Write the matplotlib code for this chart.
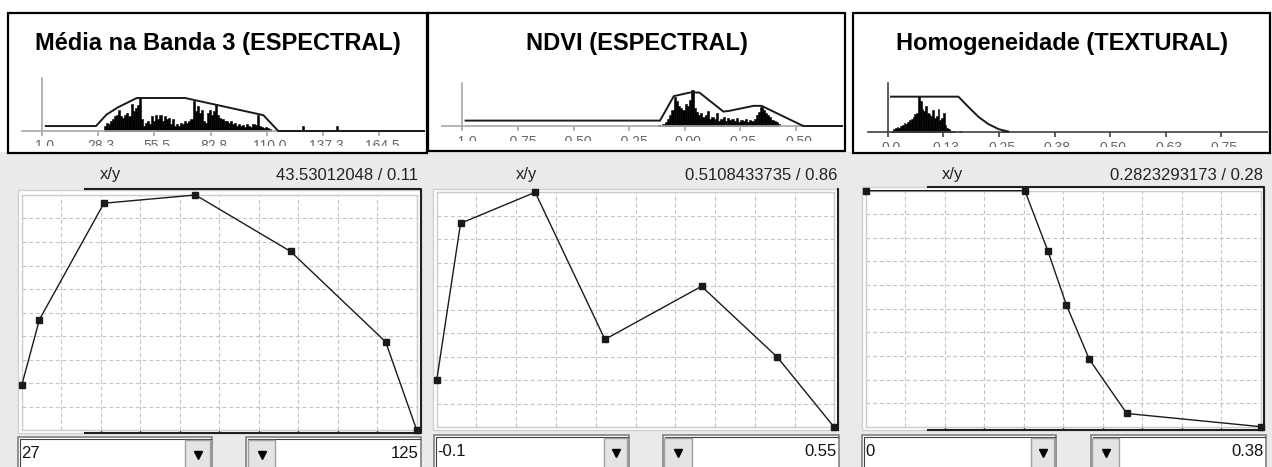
import numpy as np
import matplotlib
matplotlib.use("Agg")
import matplotlib.pyplot as plt
from matplotlib.patches import Rectangle

plt.rcParams['font.family'] = ['Liberation Sans', 'DejaVu Sans']

W, H = 1272, 467

# --- membership functions (lower charts) ---
titles = ["Média na Banda 3 (ESPECTRAL)", "NDVI (ESPECTRAL)", "Homogeneidade (TEXTURAL)"]

banda3_x = [27, 31.4, 47.4, 70.1, 93.7, 117.3, 125]
banda3_y = [0.19, 0.47, 0.965, 1.0, 0.76, 0.375, 0.0]
ndvi_x = [-0.1, -0.061, 0.061, 0.175, 0.333, 0.457, 0.55]
ndvi_y = [0.2, 0.868, 1.0, 0.374, 0.6, 0.298, 0.0]
homog_x = [0, 0.153, 0.175, 0.193, 0.215, 0.251, 0.38]
homog_y = [1.0, 1.0, 0.746, 0.515, 0.285, 0.056, 0.0]

x_ranges = [(27, 125), (-0.1, 0.55), (0, 0.38)]
range_labels = [("27", "125"), ("-0.1", "0.55"), ("0", "0.38")]
readouts = ["43.53012048 / 0.11", "0.5108433735 / 0.86", "0.2823293173 / 0.28"]

# --- histograms in the title boxes ---
banda3_hist_start, banda3_hist_step = 31, 1.0
banda3_hist = [0.15, 0.25, 0.2, 0.3, 0.35, 0.45, 0.5, 0.63, 0.45, 0.4,
               0.5, 0.55, 0.45, 0.83, 0.6, 0.7, 0.78, 1.0, 0.35, 0.15,
               0.25, 0.3, 0.2, 0.45, 0.3, 0.5, 0.35, 0.5, 0.3, 0.45,
               0.35, 0.4, 0.2, 0.35, 0.15, 0.2, 0.15, 0.25, 0.2, 0.3,
               0.25, 0.3, 0.35, 0.9, 0.6, 0.75, 0.55, 0.65, 0.3, 0.25,
               0.55, 0.65, 0.5, 0.6, 0.83, 0.5, 0.4, 0.35, 0.3, 0.3,
               0.25, 0.3, 0.2, 0.25, 0.15, 0.2, 0.15, 0.18, 0.12, 0.2,
               0.15, 0.12, 0.2, 0.18, 0.48, 0.15, 0.12, 0.1, 0.12, 0.08, 0.06]
banda3_extra_x = [127.6, 144.0]
banda3_extra_h = [0.15, 0.15]
banda3_env_x = [3.0, 27.3, 32.4, 38.0, 47.0, 70.4, 108.3, 115.5, 200.0]
banda3_env_y = [0.15, 0.15, 0.5, 0.72, 1.0, 1.0, 0.48, 0.0, 0.0]
banda3_ticks = [1.0, 28.25, 55.5, 82.75, 110.0, 137.25, 164.5, 191.75]
banda3_ticklabels = ["1.0", "28.3", "55.5", "82.8", "110.0", "137.3", "164.5", "191.8"]

ndvi_hist_start, ndvi_hist_step = -0.10, 0.01
ndvi_hist = [0.05, 0.12, 0.2, 0.3, 0.45, 0.8, 0.7, 0.55, 0.5, 0.45,
             0.6, 0.55, 0.72, 1.0, 0.5, 0.4, 0.3, 0.35, 0.25, 0.3,
             0.42, 0.2, 0.25, 0.2, 0.35, 0.15, 0.2, 0.25, 0.15, 0.22,
             0.18, 0.2, 0.15, 0.22, 0.12, 0.18, 0.15, 0.2, 0.12, 0.18,
             0.15, 0.2, 0.3, 0.4, 0.54, 0.45, 0.35, 0.3, 0.25, 0.18,
             0.15, 0.1, 0.05]
ndvi_extra_x = [-0.115]
ndvi_extra_h = [0.04]
ndvi_env_x = [-0.985, -0.111, -0.049, 0.024, 0.066, 0.174, 0.20, 0.310, 0.346, 0.399, 0.533, 1.0]
ndvi_env_y = [0.15, 0.15, 0.83, 0.93, 0.93, 0.40, 0.42, 0.56, 0.56, 0.40, 0.0, 0.0]
ndvi_ticks = [-1.0, -0.75, -0.5, -0.25, 0.0, 0.25, 0.5, 0.75]
ndvi_ticklabels = ["-1.0", "-0.75", "-0.50", "-0.25", "0.00", "0.25", "0.50", "0.75"]

homog_hist_start, homog_hist_step = 0.008, 0.004
homog_hist = [0.05, 0.08, 0.12, 0.14, 0.12, 0.18, 0.2, 0.25, 0.22, 0.3,
              0.33, 0.38, 0.42, 0.5, 0.55, 1.0, 0.88, 0.65, 0.6, 0.72,
              0.55, 0.5, 0.45, 0.62, 0.4, 0.45, 0.66, 0.35, 0.4, 0.55,
              0.2, 0.12, 0.08, 0.05, 0.04, 0.03]
homog_extra_x = [0.163, 0.258, 0.264]
homog_extra_h = [0.04, 0.03, 0.03]
homog_env_x = [0.0074, 0.159, 0.181, 0.204, 0.226, 0.249, 0.271]
homog_env_y = [0.99, 0.99, 0.71, 0.43, 0.23, 0.09, 0.02]
homog_ticks = [0.0, 0.125, 0.25, 0.375, 0.5, 0.625, 0.75, 0.875]
homog_ticklabels = ["0.0", "0.13", "0.25", "0.38", "0.50", "0.63", "0.75", "0.88"]

panels = [
    dict(mx=banda3_x, my=banda3_y,
         hist=banda3_hist, h0=banda3_hist_start, hs=banda3_hist_step,
         ex=banda3_extra_x, eh=banda3_extra_h, envx=banda3_env_x, envy=banda3_env_y,
         ticks=banda3_ticks, tlabels=banda3_ticklabels),
    dict(mx=ndvi_x, my=ndvi_y,
         hist=ndvi_hist, h0=ndvi_hist_start, hs=ndvi_hist_step,
         ex=ndvi_extra_x, eh=ndvi_extra_h, envx=ndvi_env_x, envy=ndvi_env_y,
         ticks=ndvi_ticks, tlabels=ndvi_ticklabels),
    dict(mx=homog_x, my=homog_y,
         hist=homog_hist, h0=homog_hist_start, hs=homog_hist_step,
         ex=homog_extra_x, eh=homog_extra_h, envx=homog_env_x, envy=homog_env_y,
         ticks=homog_ticks, tlabels=homog_ticklabels),
]

# pixel layout of the screenshot widgets
layout = [
    dict(box=(8, 13, 427, 153), hist=(10, 60, 425, 145.5), anchor=41.7, px_per_tick=56.3,
         base=131, unit=33, axis_top=1.6, axcol='#a8a8a8',
         white=(18, 190, 421, 433), grid=(21.7, 195, 416.7, 430),
         track=(85, 189, 421, 433), xy_x=110, read_r=418,
         combo_l=(18, 437, 212), btn_l=(185, 210), combo_r=(246, 437, 421), btn_r=(248, 275)),
    dict(box=(428, 13, 845, 151), hist=(430, 60, 843, 140.5), anchor=462.3, px_per_tick=55.6,
         base=126, unit=36, axis_top=1.2, axcol='#a8a8a8',
         white=(433, 189, 838, 430), grid=(436.7, 192.3, 834.3, 427.3),
         track=None, xy_x=527, read_r=837,
         combo_l=(434, 435, 629), btn_l=(604, 627), combo_r=(663, 435, 839), btn_r=(664, 692)),
    dict(box=(853, 13, 1270, 153), hist=(855, 60, 1268, 146.8), anchor=887.7, px_per_tick=55.6,
         base=132.3, unit=36, axis_top=1.37, axcol='#404040',
         white=(862, 187, 1264, 430), grid=(865.7, 190.7, 1261, 426.7),
         track=(928, 187, 1264, 430), xy_x=952, read_r=1263,
         combo_l=(862, 435, 1056), btn_l=(1031, 1054), combo_r=(1091, 435, 1266), btn_r=(1092, 1119)),
]

fig = plt.figure(figsize=(W / 100, H / 100), dpi=100)
fig.patch.set_facecolor('white')


def px_axes(x0, y0, x1, y1, **kw):
    return fig.add_axes([x0 / W, 1 - y1 / H, (x1 - x0) / W, (y1 - y0) / H], **kw)


bg = px_axes(0, 0, W, H)
bg.set_xlim(0, W)
bg.set_ylim(H, 0)
bg.axis('off')
bg.add_patch(Rectangle((0, 152), W, H - 152, color='#eaeaea', zorder=0))


def combo(x0, y0, x1, b0, b1, text, ha):
    bg.add_patch(Rectangle((x0, y0), x1 - x0, H + 5 - y0, fc='white', ec='#808080', lw=1.2, zorder=2))
    bg.plot([x0 + 1.5, x0 + 1.5, x1 - 1.5], [H, y0 + 1.5, y0 + 1.5], color='#404040', lw=0.8, zorder=3)
    bg.add_patch(Rectangle((b0, y0 + 3), b1 - b0, H + 5 - y0, fc='#e4e4e4', ec='#a0a0a0', lw=1, zorder=3))
    bg.plot((b0 + b1) / 2, y0 + 18, marker='v', ms=6, color='black', zorder=4)
    if ha == 'left':
        bg.text(x0 + 3, y0 + 16, text, ha='left', va='center', fontsize=12, color='#111', zorder=4)
    else:
        bg.text(x1 - 2, y0 + 16, text, ha='right', va='center', fontsize=12, color='#111', zorder=4)


for i, (p, L) in enumerate(zip(panels, layout)):
    # title box
    bx0, by0, bx1, by1 = L['box']
    bg.add_patch(Rectangle((bx0, by0), bx1 - bx0, by1 - by0, fc='white', ec='black', lw=1.6, zorder=1))
    bg.text((bx0 + bx1) / 2, 50, titles[i], ha='center', va='baseline',
            fontsize=17, fontweight='bold', color='black', zorder=2)

    # histogram inside the box
    hx0, hy0, hx1, hy1 = L['hist']
    ha = px_axes(hx0, hy0, hx1, hy1)
    ha.set_facecolor('none')
    ha.axis('off')
    t0 = p['ticks'][0]
    per_px = (p['ticks'][1] - t0) / L['px_per_tick']
    ha.set_xlim(t0 + (hx0 - L['anchor']) * per_px, t0 + (hx1 - L['anchor']) * per_px)
    ha.set_ylim(-(hy1 - L['base']) / L['unit'], (L['base'] - hy0) / L['unit'])
    xl = ha.get_xlim()
    ha.plot([t0 - 20 * per_px, xl[1]], [0, 0], color=L['axcol'], lw=1.2)
    ha.plot([t0, t0], [0, L['axis_top']], color=L['axcol'], lw=1.2)
    ha.vlines(p['ticks'], -5 / L['unit'], 0, color=L['axcol'], lw=1.2)
    for tv, tl in zip(p['ticks'], p['tlabels']):
        lx = tv + 3 * per_px
        if lx < xl[1]:
            ha.text(lx, -8.5 / L['unit'], tl, ha='center', va='top', fontsize=10,
                    color='#666666', clip_on=True)
    hx = p['h0'] + np.arange(len(p['hist'])) * p['hs']
    ha.bar(hx, p['hist'], width=p['hs'], align='edge', color='black', ec='black', lw=0.4)
    ha.bar(p['ex'], p['eh'], width=p['hs'], color='black', ec='black', lw=0.4)
    ha.plot(p['envx'], p['envy'], color='#1a1a1a', lw=1.4)

    # header of the function editor
    bg.text(L['xy_x'], 175, 'x/y', ha='center', va='center', fontsize=12, color='#222', zorder=3)
    bg.text(L['read_r'], 175, readouts[i], ha='right', va='center', fontsize=12, color='#222', zorder=3)

    # white plotting area
    wx0, wy0, wx1, wy1 = L['white']
    bg.add_patch(Rectangle((wx0, wy0), wx1 - wx0, wy1 - wy0, fc='white', ec='#d0d0d0', lw=1, zorder=2))
    gx0, gy0, gx1, gy1 = L['grid']
    if L['track'] is not None:
        tx0, ty0, tx1, ty1 = L['track']
        bg.plot([tx0, tx1, tx1, tx0], [ty0, ty0, ty1, ty1], color='#202020', lw=1.5, zorder=3)
        gxs = np.linspace(gx0, gx1, 11)
        gxs = gxs[gxs > tx0]
        bg.vlines(gxs, ty1 - 3, ty1, color='#202020', lw=1, zorder=3)
    else:
        bg.plot([wx1, wx1], [wy0, wy1], color='#202020', lw=1.5, zorder=3)

    ax = px_axes(gx0, gy0, gx1, gy1)
    ax.set_facecolor('none')
    xr = x_ranges[i]
    ax.set_xlim(*xr)
    ax.set_ylim(0, 1)
    ax.set_xticks(np.linspace(xr[0], xr[1], 11))
    ax.set_yticks(np.linspace(0, 1, 11))
    ax.grid(True, ls=(0, (3.5, 2.5)), color='#c4c4c4', lw=0.8)
    ax.tick_params(length=0, labelbottom=False, labelleft=False)
    for s in ax.spines.values():
        s.set_color('#cccccc')
        s.set_linewidth(1)
    ax.plot(p['mx'], p['my'], color='#1a1a1a', lw=1.0, marker='s', ms=4,
            clip_on=False, zorder=5)

    # combo boxes with the range limits
    cl = L['combo_l']
    combo(cl[0], cl[1], cl[2], L['btn_l'][0], L['btn_l'][1], range_labels[i][0], 'left')
    cr = L['combo_r']
    combo(cr[0], cr[1], cr[2], L['btn_r'][0], L['btn_r'][1], range_labels[i][1], 'right')

fig.savefig('out.png', dpi=100)
